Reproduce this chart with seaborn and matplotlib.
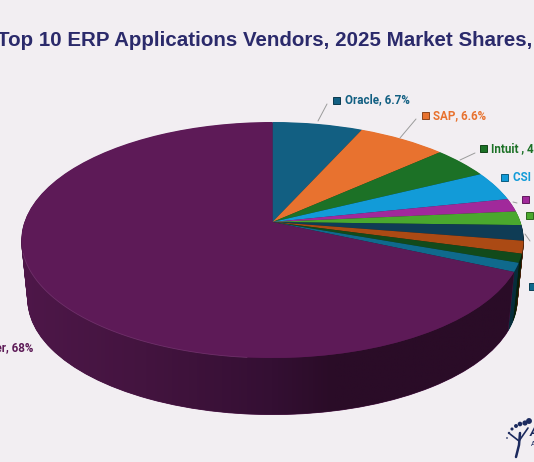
import numpy as np
import pandas as pd
import seaborn as sns
import matplotlib
matplotlib.use("Agg")
import matplotlib.pyplot as plt
from matplotlib.transforms import Transform
from matplotlib.path import Path
from matplotlib.patches import PathPatch, Rectangle
from matplotlib.colors import LinearSegmentedColormap, to_rgb

vendors = ["Oracle", "SAP", "Intuit", "CSI", "Vendor 5", "Vendor 6", "Vendor 7", "Vendor 8", "Vendor 9", "Vendor 10", "Other"]
shares = [6.7, 6.6, 4.3, 4.0, 1.8, 1.9, 2.1, 1.7, 1.2, 1.2, 68.0]
colors = ["#125f82", "#e8722f", "#1c7126", "#129bd8", "#a1299b", "#4aa82e", "#0f3c55", "#ab4a14", "#124a1b", "#0f6a8d", "#5d1a57"]

BG = "#f2eef2"
sns.set_theme(style="white", rc={"figure.facecolor": BG, "axes.facecolor": BG})
plt.rcParams["font.family"] = ["Roboto", "DejaVu Sans"]

df = pd.DataFrame({"vendor": vendors, "share": shares, "color": colors})

fig = plt.figure(figsize=(5.34, 4.62), dpi=100)
ax = fig.add_axes([0, 0, 1, 1])


class Perspective(Transform):
    """Tilted-disc projection of a unit pie into pixel coordinates."""
    input_dims = 2
    output_dims = 2
    is_separable = False
    has_inverse = False

    def __init__(self, cx, cy, a, b, k, dy=0, scale=1.0):
        super().__init__()
        self.cx, self.cy, self.a, self.b, self.k, self.dy, self.scale = cx, cy, a, b, k, dy, scale

    def transform_non_affine(self, v):
        v = np.asarray(v)
        w = 1 + self.k * v[:, 1]
        return np.column_stack([self.cx + self.scale * self.a * v[:, 0] / w,
                                self.cy + self.dy - self.scale * self.b * v[:, 1] / w])


CX, CY, A, B, K = 272.5, 222, 248, 115.25, 0.1525
DEPTH = 60
BOTTOM_SCALE = 0.975


def darker(c, f):
    return tuple(x * f for x in to_rgb(c))


def persp(dy):
    return Perspective(CX, CY, A, B, K, dy, 1 - (1 - BOTTOM_SCALE) * dy / DEPTH)


def draw_pie(cols, dy, z):
    wedges, _ = ax.pie(df["share"], colors=cols, startangle=90, counterclock=False,
                       wedgeprops=dict(linewidth=0.6 if dy else 0))
    tr = persp(dy) + ax.transData
    for w, c in zip(wedges, cols):
        w.set_transform(tr)
        w.set_zorder(z)
        if dy:
            w.set_edgecolor(c)
    return wedges


side_cols = [darker(c, 0.42) for c in colors[:-1]] + ["#4e1749"]
for d in range(DEPTH, 0, -1):
    draw_pie(side_cols, d, 1 + (DEPTH - d) * 0.001)

# shaded side wall of the large slice
start = np.deg2rad(90 - 360 * sum(shares[:-1]) / sum(shares))
th = np.linspace(start, np.deg2rad(-171), 300)
unit = np.column_stack([np.cos(th), np.sin(th)])
poly = np.vstack([persp(DEPTH).transform_non_affine(unit),
                  persp(0).transform_non_affine(unit)[::-1]])
cmap = LinearSegmentedColormap.from_list(
    "side", [(0, "#4e1749"), (0.25, "#43143f"), (0.5, "#340f33"), (0.62, "#2a0c27"), (1, "#2a0c27")])
im = ax.imshow(np.linspace(0, 1, 256)[None, :], extent=(20, 525, 420, 200), cmap=cmap, aspect="auto", zorder=1.5)
im.set_clip_path(PathPatch(Path(poly), transform=ax.transData))

draw_pie(colors, 0, 2)

# faint highlight along the front-left rim
th2 = np.linspace(np.deg2rad(-95), np.deg2rad(-165), 100)
rim = persp(0).transform_non_affine(np.column_stack([np.cos(th2), np.sin(th2)]))
ax.plot(rim[:, 0], rim[:, 1], color="#7a3a75", lw=0.6, alpha=0.7, zorder=2.5)

ax.set_aspect("auto")
ax.axis("off")

# title
ax.text(-3, 41, "Top 10 ERP Applications Vendors, 2025 Market Shares,", fontsize=14.8, fontweight="bold",
        color="#2b2a6b", va="center", ha="left", family=["Liberation Sans", "DejaVu Sans"], zorder=5)

# labels
labels = [("Oracle, 6.7%", 345, 100, colors[0]),
          ("SAP, 6.6%", 433, 116, colors[1]),
          ("Intuit , 4.3%", 491, 149, colors[2]),
          ("CSI , 4%", 513, 177, colors[3])]
for s, x, y, c in labels:
    ax.text(x, y, s, color=c, fontsize=8.4, fontweight="bold", va="center", ha="left", zorder=5)
ax.text(33.5, 348, "Other, 68%", color=colors[10], fontsize=8.4, fontweight="bold", va="center", ha="right", zorder=5)

# legend keys
keys = [(336, 100, 0), (425, 115, 1), (483, 148, 2), (504, 177, 3), (525, 199, 4), (529, 215, 5), (532, 286, 9)]
for x, y, i in keys:
    ax.add_patch(Rectangle((x - 3.5, y - 3.5), 7, 7, facecolor=colors[i], edgecolor=darker(colors[i], 0.6), lw=0.7, zorder=5))

# leader lines
leaders = [((327, 104), (318, 121)), ((416, 119), (400, 138)), ((475, 153), (460, 160)),
           ((513, 202), (517, 203)), ((525, 234), (530, 241))]
for p, q in leaders:
    ax.plot([p[0], q[0]], [p[1], q[1]], color="#9b9b9b", lw=0.7, zorder=3)

# logo
lx = [507, 509, 512, 516, 520, 525, 529]
ly = [438, 433, 429, 426, 424, 423, 421]
ls = [1.5, 3, 5, 8, 11, 14, 18]
ax.scatter(lx, ly, s=ls, color="#1c2a5e", zorder=5, linewidths=0)
ax.plot([520, 519, 516], [433, 445, 457], color="#1c2a5e", lw=1.8, zorder=5)
ax.plot([510, 519, 528], [434, 441, 428], color="#1c2a5e", lw=1.2, zorder=5)
ax.text(530, 432, "A", color="#1c2a5e", fontsize=9, fontweight="bold", style="italic", va="center", zorder=5)
ax.text(531, 444, "A", color="#1c2a5e", fontsize=5, va="center", zorder=5)

ax.set_xlim(0, 534)
ax.set_ylim(462, 0)
fig.savefig("out.png", dpi=100, facecolor=BG)
